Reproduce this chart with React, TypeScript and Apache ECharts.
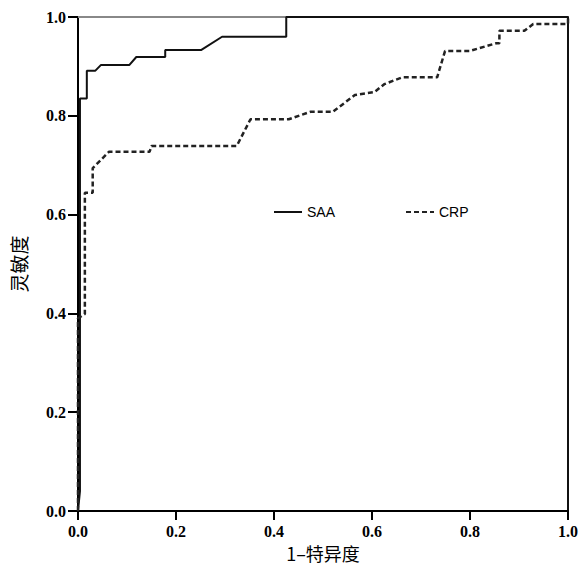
import React, { useEffect, useRef } from "react";
import * as echarts from "echarts";

const xTicks = [0, 0.2, 0.4, 0.6, 0.8, 1.0];
const saaPoints: [number, number][] = [
  [0, 0], [0.004, 0.04], [0.004, 0.835], [0.018, 0.835], [0.018, 0.891], [0.035, 0.891],
  [0.047, 0.903], [0.105, 0.903], [0.119, 0.919], [0.178, 0.919], [0.178, 0.933],
  [0.251, 0.933], [0.294, 0.96], [0.425, 0.96], [0.425, 1.0], [1.0, 1.0],
];
const crpPoints: [number, number][] = [
  [0, 0], [0, 0.39], [0.014, 0.399], [0.014, 0.644], [0.030, 0.644], [0.030, 0.694],
  [0.063, 0.727], [0.146, 0.727], [0.150, 0.739], [0.324, 0.739], [0.352, 0.793],
  [0.430, 0.793], [0.474, 0.808], [0.520, 0.808], [0.565, 0.842], [0.605, 0.848],
  [0.625, 0.864], [0.662, 0.878], [0.733, 0.878], [0.749, 0.931], [0.799, 0.931],
  [0.854, 0.947], [0.860, 0.947], [0.860, 0.972], [0.911, 0.972], [0.929, 0.986],
  [1.0, 0.986], [1.0, 1.0],
];
const framePoints: [number, number][] = [[0, 1], [1, 1]];
const seriesNames = ["SAA", "CRP"];
const xName = "1\u2013特异度";
const yName = "灵敏度";

export default function App() {
  const ref = useRef<HTMLDivElement>(null);
  useEffect(() => {
    if (!ref.current) return;
    const chart = echarts.init(ref.current, null, { renderer: "svg" });
    const tickLabel = {
      fontFamily: "Liberation Serif",
      fontWeight: 700,
      fontSize: 16,
      color: "#000",
      formatter: (v: number) => v.toFixed(1),
    };
    const legendCommon = {
      top: 205, itemWidth: 28, itemHeight: 14, itemGap: 4, padding: 0,
      itemStyle: { opacity: 0 },
      textStyle: { fontFamily: "Liberation Sans", fontSize: 14, color: "#000" },
    };
    const tickDepth = 0.018;
    const xTickData: any[] = [];
    xTicks.forEach((v) => {
      xTickData.push([v, 0], [v, -tickDepth], "-");
    });
    chart.setOption({
      animation: false,
      backgroundColor: "#fff",
      grid: { left: 78, right: 9, top: 17, bottom: 60, containLabel: false },
      legend: [
        { ...legendCommon, data: [seriesNames[0]], left: 273 },
        { ...legendCommon, data: [seriesNames[1]], left: 405 },
      ],
      xAxis: {
        type: "value", min: 0, max: 1, interval: 0.2, position: "bottom",
        name: xName, nameLocation: "middle", nameGap: 28,
        nameTextStyle: { fontFamily: "Noto Sans CJK SC", fontSize: 18, color: "#000" },
        axisLine: { show: true, onZero: false, lineStyle: { color: "#000", width: 2 } },
        axisTick: { show: true, inside: false, length: 9, lineStyle: { color: "#000", width: 2 } },
        axisLabel: { ...tickLabel, margin: 12 },
        splitLine: { show: false },
      },
      yAxis: [
        {
          type: "value", min: 0, max: 1, interval: 0.2, position: "left",
          name: yName, nameLocation: "middle", nameGap: 50, nameRotate: 90,
          nameTextStyle: { fontFamily: "Noto Sans CJK SC", fontSize: 19, color: "#000" },
          axisLine: { show: true, onZero: false, lineStyle: { color: "#000", width: 2 } },
          axisTick: { show: true, inside: false, length: 10, lineStyle: { color: "#000", width: 2 } },
          axisLabel: { ...tickLabel, margin: 12 },
          splitLine: { show: false },
        },
        {
          type: "value", min: 0, max: 1, position: "right",
          axisLine: { show: true, onZero: false, lineStyle: { color: "#111", width: 2 } },
          axisTick: { show: false }, axisLabel: { show: false }, splitLine: { show: false },
        },
      ],
      series: [
        {
          name: "frame", type: "line", data: framePoints, z: 0, silent: true, clip: false,
          symbol: "none", lineStyle: { color: "#888", width: 2 },
        },
        {
          name: "xticks", type: "line", data: xTickData, z: 2, silent: true, clip: false,
          connectNulls: false, symbol: "none", lineStyle: { color: "#000", width: 2 },
        },
        {
          name: seriesNames[0], type: "line", data: saaPoints, symbol: "none", z: 3, clip: false,
          lineStyle: { color: "#111", width: 2 }, itemStyle: { color: "#111" },
        },
        {
          name: seriesNames[1], type: "line", data: crpPoints, symbol: "none", z: 3, clip: false,
          lineStyle: { color: "#222", width: 2.5, type: [5, 3] }, itemStyle: { color: "#222" },
        },
      ],
    });
    return () => chart.dispose();
  }, []);
  return <div ref={ref} style={{ width: 581, height: 571, position: "absolute", left: 0, top: 0 }} />;
}
